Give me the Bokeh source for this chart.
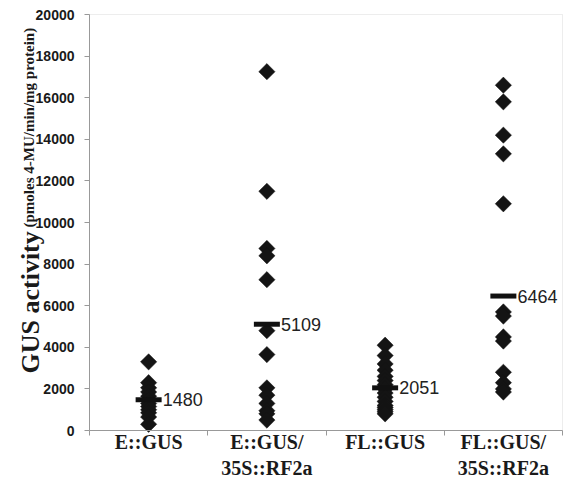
import math
from bokeh.plotting import figure
from bokeh.models import FixedTicker, Label, ColumnDataSource, Range1d, BoxAnnotation
from bokeh.core.properties import value
from bokeh.embed import file_html
from bokeh.resources import INLINE

# ---- data ----
categories = ["E::GUS", "E::GUS/\n35S::RF2a", "FL::GUS", "FL::GUS/\n35S::RF2a"]
e_gus = [3300, 2300, 2050, 1850, 1650, 1450, 1300, 1150, 1000, 850, 650, 300]
e_gus_rf2a = [17250, 11500, 8750, 8400, 7250, 4800, 3650, 2050, 1700, 1300, 950, 800, 500]
fl_gus = [4100, 3600, 3200, 2900, 2600, 2400, 2200, 2000, 1800, 1600, 1400, 1200, 1100, 1000, 900, 800]
fl_gus_rf2a = [16600, 15800, 14200, 13300, 10900, 5700, 5500, 4500, 4300, 2800, 2300, 2000, 1850]
means = [1480, 5109, 2051, 6464]
mean_labels = ["1480", "5109", "2051", "6464"]
y_ticks = [0, 2000, 4000, 6000, 8000, 10000, 12000, 14000, 16000, 18000, 20000]

series = [e_gus, e_gus_rf2a, fl_gus, fl_gus_rf2a]
centers = [i + 0.5 for i in range(len(categories))]
n_cat = len(categories)
y_max = y_ticks[-1]

pts_x, pts_y = [], []
for c, vals in zip(centers, series):
    for v in vals:
        pts_x.append(c)
        pts_y.append(v)
pts = ColumnDataSource(dict(x=pts_x, y=pts_y))
mean_src = ColumnDataSource(dict(x=centers, y=means, label=mean_labels))

# ---- layout (canvas pixels) ----
W, H = 563, 481
plot_left, plot_right = 89, 562      # canvas x of data x=0 and x=n_cat
plot_top, plot_bottom = 14, 430      # canvas y of data y=y_max and y=0
xs = (plot_right - plot_left) / n_cat
ys = (plot_bottom - plot_top) / y_max
x_range = Range1d(-plot_left / xs, n_cat + (W - plot_right) / xs)
y_range = Range1d(-(H - plot_bottom) / ys, y_max + plot_top / ys)

p = figure(width=W, height=H, output_backend="svg", toolbar_location=None,
           x_range=x_range, y_range=y_range, title=None,
           min_border_left=0, min_border_right=0, min_border_top=0, min_border_bottom=0)

p.xgrid.visible = False
p.ygrid.visible = False
p.outline_line_color = None
p.background_fill_color = "white"
p.border_fill_color = "white"

# plot box (top / right border)
p.add_layout(BoxAnnotation(left=0, right=n_cat, bottom=0, top=y_max, fill_alpha=0,
                           line_color="#c4c4c4", line_width=1, level="underlay"))

# x axis
xa = p.xaxis[0]
xa.fixed_location = 0
xa.bounds = (0, n_cat)
xa.ticker = FixedTicker(ticks=centers, minor_ticks=list(range(n_cat + 1)))
xa.major_label_overrides = {c: lab for c, lab in zip(centers, categories)}
xa.major_tick_line_color = None
xa.major_tick_in = 0
xa.major_tick_out = 5
xa.minor_tick_in = 0
xa.minor_tick_out = 5
xa.minor_tick_line_color = "#999999"
xa.axis_line_color = "#999999"
xa.major_label_text_font = "Liberation Serif"
xa.major_label_text_font_style = "bold"
xa.major_label_text_font_size = "20px"
xa.major_label_text_color = "#1a1a1a"
xa.major_label_standoff = -5

# y axis
ya = p.yaxis[0]
ya.fixed_location = 0
ya.bounds = (0, y_max)
ya.ticker = FixedTicker(ticks=y_ticks)
ya.major_tick_in = 0
ya.major_tick_out = 5
ya.minor_tick_line_color = None
ya.major_tick_line_color = "#999999"
ya.axis_line_color = "#999999"
ya.major_label_text_font = "Liberation Sans"
ya.major_label_text_font_style = "bold"
ya.major_label_text_font_size = "14px"
ya.major_label_text_color = "#1a1a1a"
ya.major_label_standoff = 10

# points
p.scatter("x", "y", source=pts, marker="square", angle=math.pi / 4, size=11.5,
          fill_color="#141414", line_color="#141414", line_width=0.5)

# mean bars
p.scatter("x", "y", source=mean_src, marker="dash", size=26, line_width=5,
          line_color="#111111")
p.text("x", "y", text="label", source=mean_src, x_offset=14, text_baseline="middle",
       text_align="left", text_font=value("Liberation Sans"), text_font_size="18px",
       text_color="#222222")

# y axis title (two font sizes), placed left of the axis
p.add_layout(Label(x=(30 - plot_left) / xs, y=(plot_bottom - 373) / ys, text="GUS activity",
                   angle=math.pi / 2, text_font="Liberation Serif", text_font_style="bold",
                   text_font_size="26px", text_color="#1a1a1a",
                   text_baseline="alphabetic", text_align="left"))
p.add_layout(Label(x=(28.5 - plot_left) / xs, y=(plot_bottom - 227) / ys,
                   text="(pmoles 4-MU/min/mg protein)",
                   angle=math.pi / 2, text_font="Liberation Serif", text_font_style="bold",
                   text_font_size="15px", text_color="#1a1a1a",
                   text_baseline="alphabetic", text_align="left"))

open("out.html", "w").write(file_html(p, INLINE))
